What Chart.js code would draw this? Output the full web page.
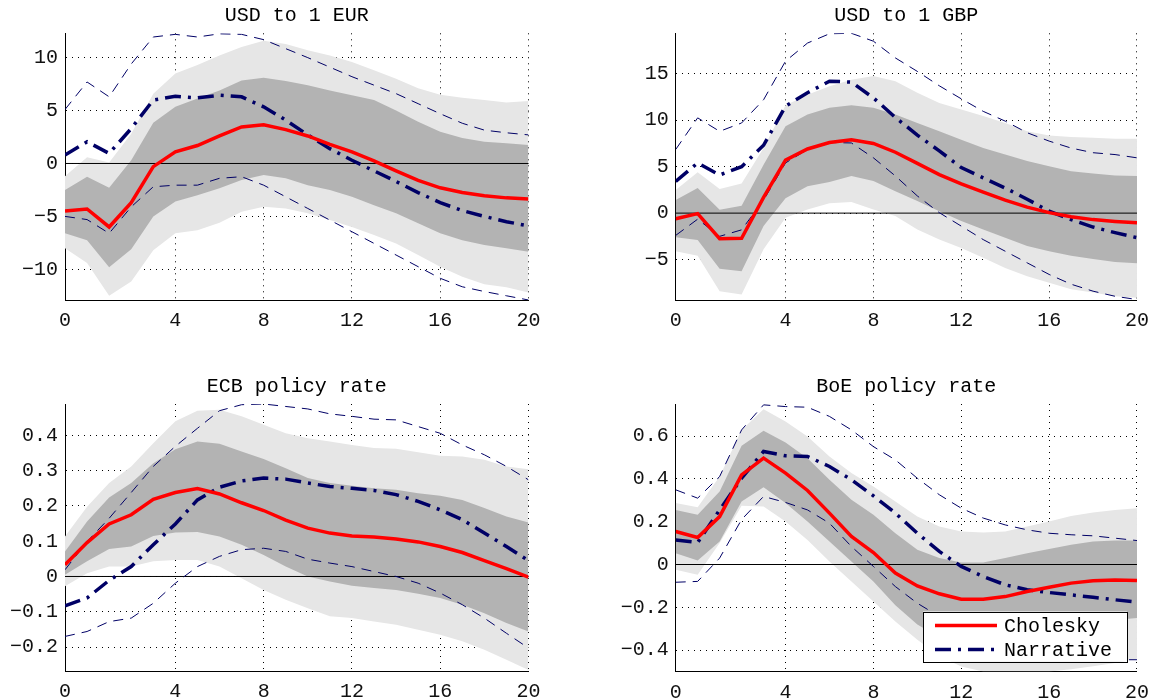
<!DOCTYPE html>
<html>
<head>
<meta charset="utf-8">
<script src="https://cdn.jsdelivr.net/npm/chart.js@4.4.1/dist/chart.umd.min.js"></script>
<style>
  html, body { margin: 0; padding: 0; background: #fff; }
  #wrap { position: relative; width: 1158px; height: 700px; }
  #wrap canvas { position: absolute; left: 0; top: 0; }
</style>
</head>
<body>
<div id="wrap">
  <canvas id="c-eur" width="1158" height="700"></canvas>
  <canvas id="c-gbp" width="1158" height="700"></canvas>
  <canvas id="c-ecb" width="1158" height="700"></canvas>
  <canvas id="c-boe" width="1158" height="700"></canvas>
</div>
<script>
// horizon steps (plotted positions) and the tick labels shown under them
const steps = [0, 1, 2, 3, 4, 5, 6, 7, 8, 9, 10, 11, 12, 13, 14, 15, 16, 17, 18, 19, 20, 21];
const xTickPos = [0, 5, 9, 13, 17, 21];
const xTickLabels = ['0', '4', '8', '12', '16', '20'];

const legendLabels = ['Cholesky', 'Narrative'];

// USD to 1 EUR
const eurTicks = [-10, -5, 0, 5, 10];
const eurChol = [-4.5, -4.3, -6.0, -3.7, -0.3, 1.1, 1.7, 2.6, 3.45, 3.65, 3.2, 2.6, 1.8, 1.1, 0.25, -0.7, -1.6, -2.3, -2.75, -3.05, -3.25, -3.35];
const eurNarr = [0.8, 2.05, 0.95, 3.3, 6.0, 6.35, 6.2, 6.45, 6.3, 5.35, 4.1, 2.7, 1.4, 0.3, -0.7, -1.7, -2.75, -3.7, -4.45, -5.0, -5.5, -5.9];
const eurNarrHi = [5.1, 7.7, 6.3, 9.4, 11.95, 12.2, 11.95, 12.25, 12.2, 11.7, 10.85, 10.0, 9.1, 8.2, 7.4, 6.6, 5.65, 4.7, 3.8, 3.15, 2.9, 2.7];
const eurNarrLo = [-5.0, -5.3, -6.6, -4.1, -2.2, -2.05, -2.05, -1.4, -1.25, -2.05, -3.15, -4.25, -5.35, -6.45, -7.55, -8.65, -9.75, -10.85, -11.65, -12.1, -12.5, -12.9];
const eurHi90 = [-1.2, 0.6, 0.1, 2.8, 6.6, 8.5, 9.3, 10.2, 11.0, 11.6, 11.3, 10.7, 10.2, 9.6, 8.8, 8.0, 7.1, 6.5, 6.2, 6.0, 5.75, 5.9];
const eurLo90 = [-8.0, -9.4, -12.5, -11.15, -8.2, -6.6, -6.3, -5.6, -4.55, -4.1, -4.25, -4.7, -5.35, -6.0, -6.75, -7.55, -8.65, -9.75, -10.7, -11.4, -11.7, -12.2];
const eurHi68 = [-2.5, -1.25, -2.3, 0.3, 3.85, 5.35, 6.15, 6.9, 7.85, 8.1, 7.8, 7.4, 6.9, 6.45, 6.0, 5.0, 3.95, 3.0, 2.4, 2.05, 1.9, 1.75];
const eurLo68 = [-6.6, -7.25, -9.8, -8.1, -5.0, -3.6, -3.0, -2.35, -1.55, -1.1, -1.4, -2.05, -2.5, -3.15, -3.95, -4.7, -5.65, -6.6, -7.25, -7.7, -8.0, -8.35];

// USD to 1 GBP
const gbpTicks = [-5, 0, 5, 10, 15];
const gbpChol = [-0.6, -0.05, -2.75, -2.7, 1.7, 5.7, 6.9, 7.6, 7.9, 7.5, 6.55, 5.35, 4.15, 3.15, 2.25, 1.4, 0.65, 0.05, -0.4, -0.7, -0.9, -1.05];
const gbpNarr = [3.4, 5.4, 4.1, 5.0, 7.3, 11.5, 12.95, 14.2, 14.1, 12.4, 10.3, 8.4, 6.7, 4.9, 3.8, 2.7, 1.5, 0.2, -0.7, -1.5, -2.1, -2.65];
const gbpNarrHi = [6.85, 10.25, 8.8, 9.7, 12.2, 16.35, 18.3, 19.3, 19.35, 18.5, 16.7, 15.25, 13.7, 12.3, 10.95, 9.9, 8.65, 7.75, 7.0, 6.5, 6.3, 5.95];
const gbpNarrLo = [-2.4, -0.65, -2.5, -1.8, 1.4, 5.4, 6.85, 7.6, 7.55, 5.95, 4.0, 1.85, 0.05, -1.4, -2.85, -4.1, -5.35, -6.6, -7.65, -8.4, -8.95, -9.3];
const gbpHi90 = [2.5, 4.4, 2.6, 3.2, 7.0, 11.6, 12.75, 13.65, 14.35, 14.75, 14.2, 12.95, 11.85, 11.15, 10.45, 9.7, 8.8, 8.35, 8.2, 8.1, 8.0, 8.0];
const gbpLo90 = [-4.1, -4.6, -8.4, -8.75, -3.9, -0.5, 0.4, 1.05, 1.2, 0.4, -0.3, -1.75, -2.85, -3.75, -4.8, -5.9, -6.8, -7.5, -8.2, -8.55, -8.95, -9.1];
const gbpHi68 = [1.4, 2.7, 0.35, 0.8, 5.2, 9.35, 10.6, 11.35, 11.6, 11.35, 10.6, 9.7, 8.8, 7.9, 7.0, 6.3, 5.6, 5.05, 4.5, 4.25, 4.05, 4.0];
const gbpLo68 = [-2.6, -2.9, -6.0, -6.25, -1.4, 1.6, 2.9, 3.35, 4.0, 3.45, 2.35, 1.3, 0.2, -0.85, -1.75, -2.65, -3.55, -4.1, -4.6, -4.95, -5.25, -5.4];

// ECB policy rate
const ecbTicks = [-0.2, -0.1, 0, 0.1, 0.2, 0.3, 0.4];
const ecbChol = [0.033, 0.096, 0.149, 0.175, 0.219, 0.238, 0.249, 0.234, 0.209, 0.187, 0.160, 0.137, 0.123, 0.115, 0.112, 0.106, 0.098, 0.085, 0.068, 0.045, 0.022, -0.002];
const ecbNarr = [-0.083, -0.061, -0.011, 0.028, 0.09, 0.149, 0.217, 0.253, 0.271, 0.279, 0.276, 0.265, 0.255, 0.25, 0.244, 0.232, 0.213, 0.189, 0.161, 0.123, 0.085, 0.045];
const ecbNarrHi = [0.019, 0.099, 0.165, 0.238, 0.312, 0.369, 0.42, 0.47, 0.487, 0.489, 0.482, 0.475, 0.461, 0.454, 0.446, 0.444, 0.425, 0.406, 0.373, 0.345, 0.312, 0.274];
const ecbNarrLo = [-0.17, -0.156, -0.128, -0.118, -0.076, -0.019, 0.028, 0.057, 0.076, 0.08, 0.071, 0.049, 0.038, 0.028, 0.014, 0.0, -0.019, -0.047, -0.08, -0.118, -0.161, -0.203];
const ecbHi90 = [0.113, 0.198, 0.265, 0.312, 0.378, 0.44, 0.47, 0.473, 0.454, 0.43, 0.406, 0.392, 0.383, 0.373, 0.364, 0.362, 0.352, 0.342, 0.34, 0.331, 0.312, 0.304];
const ecbLo90 = [-0.028, 0.009, 0.028, 0.028, 0.043, 0.047, 0.047, 0.028, -0.005, -0.038, -0.066, -0.09, -0.113, -0.118, -0.128, -0.137, -0.151, -0.165, -0.184, -0.208, -0.236, -0.265];
const ecbHi68 = [0.071, 0.156, 0.224, 0.265, 0.321, 0.361, 0.383, 0.376, 0.354, 0.333, 0.307, 0.279, 0.265, 0.257, 0.25, 0.246, 0.236, 0.229, 0.217, 0.194, 0.17, 0.153];
const ecbLo68 = [0.005, 0.043, 0.078, 0.085, 0.115, 0.125, 0.126, 0.113, 0.09, 0.061, 0.028, 0.0, -0.014, -0.026, -0.033, -0.038, -0.049, -0.061, -0.08, -0.104, -0.132, -0.156];

// BoE policy rate
const boeTicks = [-0.4, -0.2, 0, 0.2, 0.4, 0.6];
const boeChol = [0.154, 0.126, 0.224, 0.419, 0.497, 0.427, 0.346, 0.24, 0.131, 0.056, -0.04, -0.1, -0.137, -0.162, -0.162, -0.15, -0.126, -0.106, -0.087, -0.076, -0.072, -0.075];
const boeNarr = [0.115, 0.103, 0.255, 0.403, 0.528, 0.508, 0.505, 0.458, 0.396, 0.321, 0.24, 0.146, 0.061, -0.009, -0.056, -0.095, -0.118, -0.131, -0.142, -0.153, -0.165, -0.176];
const boeNarrHi = [0.349, 0.31, 0.411, 0.629, 0.746, 0.738, 0.735, 0.692, 0.629, 0.551, 0.489, 0.403, 0.326, 0.263, 0.217, 0.185, 0.162, 0.146, 0.139, 0.134, 0.123, 0.112];
const boeNarrLo = [-0.083, -0.079, 0.03, 0.21, 0.318, 0.29, 0.255, 0.193, 0.084, -0.009, -0.103, -0.181, -0.243, -0.298, -0.344, -0.383, -0.407, -0.422, -0.433, -0.442, -0.445, -0.445];
const boeHi90 = [0.287, 0.268, 0.411, 0.629, 0.726, 0.668, 0.598, 0.505, 0.427, 0.364, 0.294, 0.224, 0.178, 0.154, 0.15, 0.154, 0.178, 0.201, 0.227, 0.243, 0.255, 0.263];
const boeLo90 = [-0.025, -0.048, 0.1, 0.274, 0.271, 0.201, 0.115, 0.014, -0.079, -0.173, -0.266, -0.352, -0.427, -0.477, -0.5, -0.5, -0.5, -0.5, -0.49, -0.475, -0.46, -0.44];
const boeHi68 = [0.255, 0.232, 0.341, 0.555, 0.625, 0.57, 0.497, 0.396, 0.302, 0.232, 0.146, 0.069, 0.03, 0.009, 0.009, 0.03, 0.053, 0.072, 0.092, 0.107, 0.112, 0.112];
const boeLo68 = [0.053, 0.019, 0.107, 0.294, 0.361, 0.287, 0.201, 0.107, 0.014, -0.079, -0.19, -0.28, -0.34, -0.38, -0.375, -0.352, -0.329, -0.305, -0.287, -0.271, -0.259, -0.25];

// look
const LIGHT = '#e6e6e6', DARK = '#b3b3b3', RED = '#ff0000', NAVY = '#000066';
const MONO = '"Liberation Mono", "DejaVu Sans Mono", monospace';
const DASHDOT = [16, 7, 3, 7], DASHED = [10, 7];
const Y_AXIS_W = 65, X_AXIS_H = 28, PAGE_W = 1158, PAGE_H = 700;

function pts(vals) {
    return vals.map((y, i) => ({ x: steps[i], y }));
}
function line(vals, color, width, dash) {
    return { data: pts(vals), borderColor: color, borderWidth: width, borderDash: dash || [], pointRadius: 0, fill: false, tension: 0 };
}
function band(vals, color, fill) {
    return { data: pts(vals), borderColor: 'rgba(0,0,0,0)', borderWidth: 0, backgroundColor: color, pointRadius: 0, fill: fill, tension: 0 };
}
const fmt = v => String(v).replace('-', '\u2212');

// title above each axes box
const panelTitle = {
    id: 'panelTitle',
    afterDraw(chart, args, opts) {
        const { ctx, chartArea } = chart;
        ctx.save();
        ctx.font = '20px ' + MONO;
        ctx.fillStyle = '#000';
        ctx.textAlign = 'center';
        ctx.textBaseline = 'alphabetic';
        ctx.fillText(opts.text, (chartArea.left + chartArea.right) / 2, chartArea.top - 12);
        ctx.restore();
    }
};

// boxed legend in the lower right corner of the last panel
const cornerLegend = {
    id: 'cornerLegend',
    afterDraw(chart) {
        const { ctx, chartArea } = chart;
        const w = 204, h = 50;
        const x = chartArea.right - 10 - w, y = chartArea.bottom - 10 - h;
        ctx.save();
        ctx.fillStyle = '#fff';
        ctx.fillRect(x, y, w, h);
        ctx.strokeStyle = '#000';
        ctx.lineWidth = 1;
        ctx.strokeRect(Math.round(x) + 0.5, Math.round(y) + 0.5, w, h);
        const rows = [{ color: RED, dash: [], width: 3.5 }, { color: NAVY, dash: DASHDOT, width: 3.5 }];
        rows.forEach((r, i) => {
            const ry = y + 14 + i * 24;
            ctx.beginPath();
            ctx.strokeStyle = r.color;
            ctx.lineWidth = r.width;
            ctx.setLineDash(r.dash);
            ctx.moveTo(x + 12, ry);
            ctx.lineTo(x + 74, ry);
            ctx.stroke();
            ctx.setLineDash([]);
            ctx.fillStyle = '#000';
            ctx.font = '20px ' + MONO;
            ctx.textBaseline = 'middle';
            ctx.textAlign = 'left';
            ctx.fillText(legendLabels[i], x + 81, ry + 1);
        });
        ctx.restore();
    }
};

function makePanel(id, title, area, yMin, yMax, yTicks, s, legend) {
    const [left, top, right, bottom] = area;
    const zero = [{ x: steps[0], y: 0 }, { x: steps[steps.length - 1], y: 0 }];
    const datasets = [
        line(s.chol, RED, 3.5),
        line(s.narr, NAVY, 3.5, DASHDOT),
        line(s.narrHi, NAVY, 1, DASHED),
        line(s.narrLo, NAVY, 1, DASHED),
        { data: zero, borderColor: '#000', borderWidth: 1, pointRadius: 0, fill: false },
        band(s.hi68, DARK, '+1'),
        band(s.lo68, DARK, false),
        band(s.hi90, LIGHT, '+1'),
        band(s.lo90, LIGHT, false)
    ];
    const gridOpts = { color: '#000', lineWidth: 1, drawTicks: false };
    const borderOpts = { display: true, color: '#000', width: 1, dash: [1, 5] };
    new Chart(document.getElementById(id), {
        type: 'line',
        data: { datasets },
        plugins: legend ? [panelTitle, cornerLegend] : [panelTitle],
        options: {
            responsive: false,
            animation: false,
            events: [],
            layout: { autoPadding: false, padding: { left: left - Y_AXIS_W, top: top, right: PAGE_W - right, bottom: PAGE_H - bottom - X_AXIS_H } },
            plugins: { legend: { display: false }, tooltip: { enabled: false }, panelTitle: { text: title } },
            scales: {
                x: {
                    type: 'linear', min: steps[0], max: steps[steps.length - 1], z: 1,
                    grid: gridOpts, border: borderOpts,
                    afterBuildTicks: sc => { sc.ticks = xTickPos.map(v => ({ value: v })); },
                    afterFit: sc => { sc.height = X_AXIS_H; },
                    ticks: { autoSkip: false, maxRotation: 0, padding: 9, color: '#111', font: { family: MONO, size: 20 },
                             callback: (v, i) => xTickLabels[i] }
                },
                y: {
                    type: 'linear', min: yMin, max: yMax, z: 1,
                    grid: gridOpts, border: borderOpts,
                    afterBuildTicks: sc => { sc.ticks = yTicks.map(v => ({ value: v })); },
                    afterFit: sc => { sc.width = Y_AXIS_W; },
                    ticks: { autoSkip: false, padding: 7, color: '#111', font: { family: MONO, size: 20 },
                             callback: v => fmt(v) }
                }
            }
        }
    });
}

makePanel('c-eur', 'USD to 1 EUR', [65, 33.3, 528.5, 300], -12.9, 12.3, eurTicks,
    { chol: eurChol, narr: eurNarr, narrHi: eurNarrHi, narrLo: eurNarrLo, hi90: eurHi90, lo90: eurLo90, hi68: eurHi68, lo68: eurLo68 });
makePanel('c-gbp', 'USD to 1 GBP', [675.7, 33.3, 1140, 300], -9.35, 19.35, gbpTicks,
    { chol: gbpChol, narr: gbpNarr, narrHi: gbpNarrHi, narrLo: gbpNarrLo, hi90: gbpHi90, lo90: gbpLo90, hi68: gbpHi68, lo68: gbpLo68 });
makePanel('c-ecb', 'ECB policy rate', [65, 404, 528.5, 671], -0.268, 0.489, ecbTicks,
    { chol: ecbChol, narr: ecbNarr, narrHi: ecbNarrHi, narrLo: ecbNarrLo, hi90: ecbHi90, lo90: ecbLo90, hi68: ecbHi68, lo68: ecbLo68 });
makePanel('c-boe', 'BoE policy rate', [675.7, 404, 1140, 671.5], -0.5, 0.75, boeTicks,
    { chol: boeChol, narr: boeNarr, narrHi: boeNarrHi, narrLo: boeNarrLo, hi90: boeHi90, lo90: boeLo90, hi68: boeHi68, lo68: boeLo68 }, true);
</script>
</body>
</html>
